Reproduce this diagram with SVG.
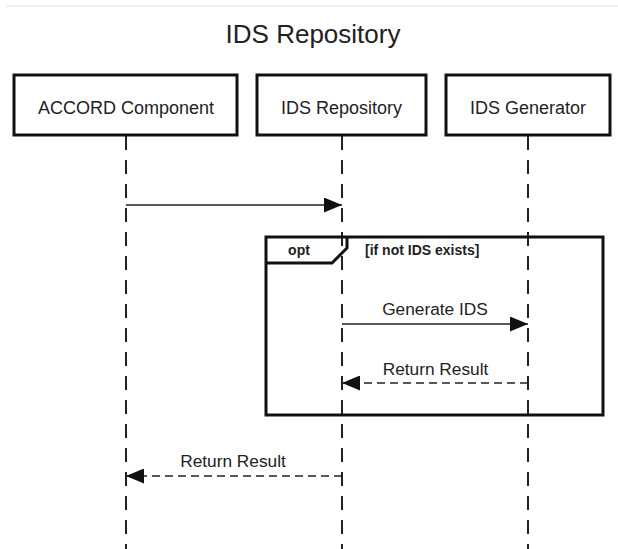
<svg xmlns="http://www.w3.org/2000/svg" width="618" height="549" viewBox="0 0 618 549">
  <defs>
    <marker id="head" viewBox="0 0 18 15" markerWidth="18" markerHeight="15" refX="18" refY="7.5" orient="auto" markerUnits="userSpaceOnUse">
      <path d="M0,0 L18,7.5 L0,15 Z" fill="#111"/>
    </marker>
    <style>
      text { font-family: "Liberation Sans", Arial, sans-serif; fill: #222; }
      .title { font-size: 26px; text-anchor: middle; }
      .actor rect { fill: #fff; stroke: #111; stroke-width: 3; }
      .actor text { font-size: 18px; text-anchor: middle; }
      .life { stroke: #222; stroke-width: 2; stroke-dasharray: 14 10; fill: none; }
      .msg { stroke: #222; stroke-width: 1.5; fill: none; marker-end: url(#head); }
      .ret { stroke-dasharray: 8 5; }
      .label { font-size: 17.3px; text-anchor: middle; }
      .frame { fill: none; stroke: #111; stroke-width: 3; }
      .small { font-size: 14px; font-weight: bold; }
    </style>
  </defs>

  <rect x="0" y="0" width="618" height="549" fill="#fff"/>
  <line x1="6" y1="6" x2="618" y2="6" stroke="#f0f0f0" stroke-width="2"/>

  <text class="title" x="313" y="43">IDS Repository</text>

  <!-- lifelines -->
  <g id="lifelines">
    <line class="life" x1="126" y1="136" x2="126" y2="549"/>
    <line class="life" x1="342" y1="136" x2="342" y2="549"/>
    <line class="life" x1="528" y1="136" x2="528" y2="549"/>
  </g>

  <!-- participants -->
  <g id="accord" class="actor">
    <rect x="14" y="75" width="223" height="60"/>
    <text x="126" y="114">ACCORD Component</text>
  </g>
  <g id="repository" class="actor">
    <rect x="257" y="75" width="169" height="60"/>
    <text x="341.5" y="114">IDS Repository</text>
  </g>
  <g id="generator" class="actor">
    <rect x="446" y="75" width="164" height="60"/>
    <text x="528" y="114">IDS Generator</text>
  </g>

  <!-- opt fragment -->
  <g id="opt">
    <rect class="frame" x="266" y="237" width="337" height="178"/>
    <path class="frame" d="M266,263 L332,263 L347,248 L347,237"/>
    <text class="small" x="299" y="255" text-anchor="middle">opt</text>
    <text class="small" x="365" y="255">[if not IDS exists]</text>
  </g>

  <!-- messages -->
  <g id="connectors">
    <line class="msg" x1="126" y1="205" x2="342" y2="205"/>
    <line class="msg" x1="342" y1="324" x2="528" y2="324"/>
    <text class="label" x="435" y="315">Generate IDS</text>
    <line class="msg ret" x1="528" y1="383" x2="342" y2="383"/>
    <text class="label" x="435.5" y="375">Return Result</text>
    <line class="msg ret" x1="342" y1="476" x2="126" y2="476"/>
    <text class="label" x="233" y="467">Return Result</text>
  </g>
</svg>
